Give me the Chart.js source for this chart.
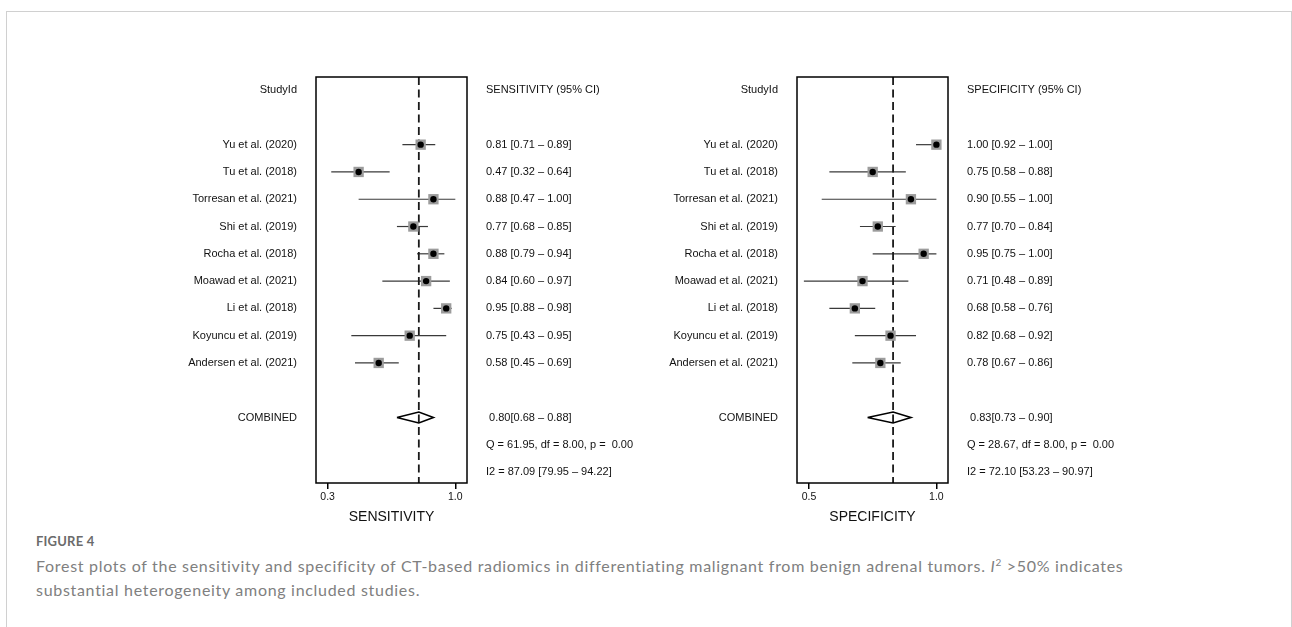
<!DOCTYPE html>
<html>
<head>
<meta charset="utf-8">
<script src="https://cdn.jsdelivr.net/npm/chart.js@4.4.0/dist/chart.umd.min.js"></script>
<style>
  body { margin: 0; background: #fff; width: 1292px; height: 627px; overflow: hidden; position: relative; }
  #frame { position: absolute; left: 6px; top: 11px; width: 1286px; height: 700px; border: 1px solid #d0d0d0; box-sizing: border-box; }
  canvas { position: absolute; top: 0; }
  #sens { left: 0; }
  #spec { left: 646px; }
  #fig { position: absolute; left: 36px; top: 533px; font-family: Lato, "Open Sans", sans-serif; font-size: 13px; font-weight: 700; color: #6b6b6b; letter-spacing: 0.2px; }
  #cap { position: absolute; left: 36px; top: 554px; font-family: Lato, "Open Sans", sans-serif; font-size: 16px; line-height: 24px; color: #808080; white-space: nowrap; letter-spacing: 0.7px; }
  #cap sup { font-size: 10px; line-height: 0; }
</style>
</head>
<body>
<div id="frame"></div>
<canvas id="sens" width="646" height="530"></canvas>
<canvas id="spec" width="646" height="530"></canvas>
<div id="fig">FIGURE 4</div>
<div id="cap">Forest plots of the sensitivity and specificity of CT-based radiomics in differentiating malignant from benign adrenal tumors. <i>I</i><sup>2</sup> &gt;50% indicates<br>substantial heterogeneity among included studies.</div>

<script>
// studies, top to bottom
const studies = ['Yu et al. (2020)', 'Tu et al. (2018)', 'Torresan et al. (2021)', 'Shi et al. (2019)',
  'Rocha et al. (2018)', 'Moawad et al. (2021)', 'Li et al. (2018)', 'Koyuncu et al. (2019)', 'Andersen et al. (2021)'];

// sensitivity
const sensEst  = [0.81, 0.47, 0.88, 0.77, 0.88, 0.84, 0.95, 0.75, 0.58];
const sensLow  = [0.71, 0.32, 0.47, 0.68, 0.79, 0.60, 0.88, 0.43, 0.45];
const sensHigh = [0.89, 0.64, 1.00, 0.85, 0.94, 0.97, 0.98, 0.95, 0.69];
const sensPooled = [0.80, 0.68, 0.88]; // estimate, low, high
const sensQ  = 'Q = 61.95, df = 8.00, p =  0.00';
const sensI2 = 'I2 = 87.09 [79.95 \u2013 94.22]';
const sensTicks = [0.3, 1.0];

// specificity
const specEst  = [1.00, 0.75, 0.90, 0.77, 0.95, 0.71, 0.68, 0.82, 0.78];
const specLow  = [0.92, 0.58, 0.55, 0.70, 0.75, 0.48, 0.58, 0.68, 0.67];
const specHigh = [1.00, 0.88, 1.00, 0.84, 1.00, 0.89, 0.76, 0.92, 0.86];
const specPooled = [0.83, 0.73, 0.90];
const specQ  = 'Q = 28.67, df = 8.00, p =  0.00';
const specI2 = 'I2 = 72.10 [53.23 \u2013 90.97]';
const specTicks = [0.5, 1.0];

const FONT = '"Liberation Sans", Arial, sans-serif';
const Y_MIN = -0.48, Y_MAX = 14.4;
const rows = [...Array(15).keys()];
const studyRow = i => i + 2;
const COMBINED_ROW = 12;

const f2 = v => v.toFixed(2);

// draws the frame around the plot area
const boxPlugin = {
  id: 'box',
  afterDatasetsDraw(chart) {
    const a = chart.chartArea, ctx = chart.ctx;
    ctx.save();
    ctx.strokeStyle = '#000';
    ctx.lineWidth = 1.5;
    ctx.strokeRect(a.left, a.top, a.right - a.left, a.bottom - a.top);
    ctx.restore();
  }
};

function forest(id, est, low, high, pooled, q, i2, ticks, title, xMin, xMax, leftW, rightW) {
  const leftLabels = rows.map(() => '');
  const rightLabels = rows.map(() => '');
  leftLabels[0] = 'StudyId';
  rightLabels[0] = title + ' (95% CI)';
  studies.forEach((s, i) => {
    leftLabels[studyRow(i)] = s;
    rightLabels[studyRow(i)] = f2(est[i]) + ' [' + f2(low[i]) + ' \u2013 ' + f2(high[i]) + ']';
  });
  leftLabels[COMBINED_ROW] = 'COMBINED';
  rightLabels[COMBINED_ROW] = ' ' + f2(pooled[0]) + '[' + f2(pooled[1]) + ' \u2013 ' + f2(pooled[2]) + ']';
  rightLabels[13] = q;
  rightLabels[14] = i2;

  const ciSets = studies.map((s, i) => ({
    type: 'line',
    data: [{ x: low[i], y: studyRow(i) }, { x: high[i], y: studyRow(i) }],
    borderColor: '#3a3a3a', borderWidth: 1.2, pointRadius: 0, order: 4
  }));

  const h = 0.2;
  const datasets = [
    ...ciSets,
    {
      type: 'line',
      data: [{ x: pooled[0], y: Y_MIN }, { x: pooled[0], y: Y_MAX }],
      borderColor: '#1a1a1a', borderWidth: 1.8, borderDash: [8, 4.5], pointRadius: 0, order: 3
    },
    {
      type: 'scatter',
      data: est.map((v, i) => ({ x: v, y: studyRow(i) })),
      pointStyle: 'rect', pointRadius: 7.3, backgroundColor: '#9c9c9c', borderWidth: 0, order: 1
    },
    {
      type: 'scatter',
      data: est.map((v, i) => ({ x: v, y: studyRow(i) })),
      pointStyle: 'circle', pointRadius: 3.2, backgroundColor: '#000', borderWidth: 0, order: 0
    },
    {
      type: 'line',
      data: [
        { x: pooled[1], y: COMBINED_ROW }, { x: pooled[0], y: COMBINED_ROW - h },
        { x: pooled[2], y: COMBINED_ROW }, { x: pooled[0], y: COMBINED_ROW + h },
        { x: pooled[1], y: COMBINED_ROW }
      ],
      borderColor: '#000', borderWidth: 1.6, pointRadius: 0, fill: false, order: 2
    }
  ];

  const yAxis = (pos, labels, w) => ({
    type: 'linear', position: pos, reverse: true, min: Y_MIN, max: Y_MAX,
    grid: { display: false, drawTicks: false },
    border: { display: false },
    afterBuildTicks: s => { s.ticks = rows.map(v => ({ value: v })); },
    afterFit: s => { s.width = w; },
    ticks: {
      autoSkip: false, padding: 19, color: '#111',
      font: { size: 11, family: FONT },
      callback: v => labels[v]
    }
  });

  new Chart(document.getElementById(id), {
    data: { datasets },
    options: {
      responsive: false,
      animation: false,
      layout: { padding: { top: 77, bottom: 0, left: 0, right: 0 } },
      plugins: { legend: { display: false }, tooltip: { enabled: false } },
      scales: {
        x: {
          type: 'linear', position: 'bottom', min: xMin, max: xMax,
          afterBuildTicks: s => { s.ticks = ticks.map(v => ({ value: v })); },
          afterFit: s => { s.height = 47; },
          grid: { display: true, drawOnChartArea: false, drawTicks: true, tickLength: 6, color: '#000', lineWidth: 1.5 },
          border: { display: false },
          ticks: { padding: 2, maxRotation: 0, color: '#111', font: { size: 10.5, family: FONT }, callback: v => v.toFixed(1) },
          title: { display: true, text: title, color: '#111', font: { size: 14, family: FONT }, padding: { top: 0, bottom: 4 } }
        },
        y: yAxis('left', leftLabels, leftW),
        y2: yAxis('right', rightLabels, rightW)
      }
    },
    plugins: [boxPlugin]
  });
}

forest('sens', sensEst, sensLow, sensHigh, sensPooled, sensQ, sensI2, sensTicks, 'SENSITIVITY', 0.2364, 1.064, 316, 179);
forest('spec', specEst, specLow, specHigh, specPooled, specQ, specI2, specTicks, 'SPECIFICITY', 0.453, 1.0455, 151, 344);
</script>
</body>
</html>
